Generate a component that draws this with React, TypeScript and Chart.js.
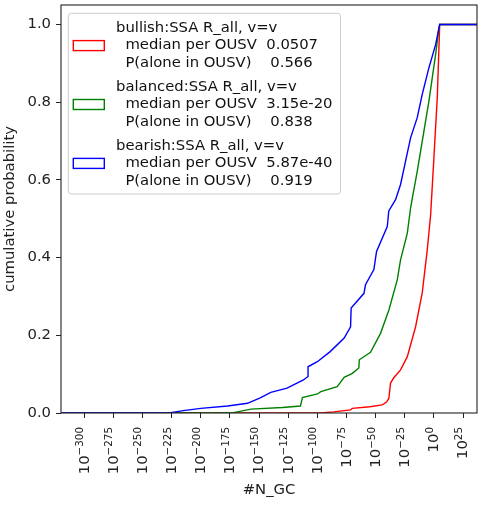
import { useEffect, useRef } from "react";
import { Chart, registerables } from "chart.js";

Chart.register(...registerables);

// x values are exponents: N_GC = 10^x
const bullishExp = [-320, -97, -86, -71.5, -70, -55, -44.3, -40.6, -38.6, -37.2, -34.6, -28.6, -22.8, -15.7, -10, -5.7, -2.8, 0, 2.9, 5, 40];
const bullishProb = [0, 0, 0.003, 0.008, 0.012, 0.016, 0.021, 0.028, 0.038, 0.077, 0.09, 0.111, 0.145, 0.222, 0.309, 0.42, 0.51, 0.656, 0.811, 1.0, 1.0];

const balancedExp = [-320, -179, -172, -157, -130, -114.5, -112.8, -100, -97, -83, -77, -70, -64.4, -64, -54.4, -45.8, -38.6, -31.4, -28.6, -22.8, -20, -14.3, -10, -4.3, 1.5, 4.3, 5, 40];
const balancedProb = [0, 0, 0.001, 0.01, 0.014, 0.018, 0.04, 0.049, 0.055, 0.068, 0.092, 0.102, 0.116, 0.137, 0.156, 0.205, 0.265, 0.343, 0.394, 0.463, 0.528, 0.622, 0.699, 0.802, 0.923, 0.991, 1.0, 1.0];

const bearishExp = [-320, -230, -226, -215, -200, -177, -160, -149, -140, -126, -112, -108, -108, -100, -89, -77, -71.5, -71, -60, -58.7, -51.5, -49.2, -40, -38.7, -32.9, -28.6, -24.3, -20, -14.3, -10, -4.3, 1.5, 5, 40];
const bearishProb = [0, 0, 0.001, 0.006, 0.012, 0.018, 0.025, 0.039, 0.053, 0.064, 0.085, 0.094, 0.119, 0.132, 0.158, 0.193, 0.222, 0.27, 0.308, 0.33, 0.369, 0.416, 0.48, 0.52, 0.549, 0.588, 0.648, 0.708, 0.76, 0.82, 0.888, 0.948, 1.0, 1.0];

const bullishLabel = ["bullish:SSA R_all, v=v", "  median per OUSV  0.0507", "  P(alone in OUSV)    0.566"];
const balancedLabel = ["balanced:SSA R_all, v=v", "  median per OUSV  3.15e-20", "  P(alone in OUSV)    0.838"];
const bearishLabel = ["bearish:SSA R_all, v=v", "  median per OUSV  5.87e-40", "  P(alone in OUSV)    0.919"];

const xTickExponents = [-300, -275, -250, -225, -200, -175, -150, -125, -100, -75, -50, -25, 0, 25];
const yTickValues = [0, 0.2, 0.4, 0.6, 0.8, 1.0];

const toPoints = (xs: number[], ys: number[]) => xs.map((x, i) => ({ x, y: ys[i] }));

const FONT = "'DejaVu Sans', sans-serif";
const FS = 14.8;

const framePlugin = {
  id: "frame",
  afterDatasetsDraw(chart: any) {
    const { ctx, chartArea: a } = chart;
    ctx.save();
    ctx.strokeStyle = "#222";
    ctx.lineWidth = 1.1;
    ctx.strokeRect(a.left, a.top, a.right - a.left, a.bottom - a.top);
    ctx.restore();
  },
};

// matplotlib-like 10^n labels, rotated, with a real superscript
const powerTicksPlugin = {
  id: "powerTicks",
  afterDraw(chart: any) {
    const { ctx } = chart;
    const xs = chart.scales.x;
    const baseFont = FS + "px " + FONT;
    const supFont = FS * 0.7 + "px " + FONT;
    ctx.save();
    ctx.fillStyle = "#222";
    ctx.textAlign = "left";
    ctx.textBaseline = "alphabetic";
    xs.ticks.forEach((t: any) => {
      const px = xs.getPixelForValue(t.value);
      const base = "10";
      const sup = String(t.value).replace("-", "\u2212");
      ctx.font = baseFont;
      const wb = ctx.measureText(base).width;
      ctx.font = supFont;
      const ws = ctx.measureText(sup).width;
      ctx.save();
      ctx.translate(px, xs.top + 14);
      ctx.rotate(-Math.PI / 2);
      const start = -(wb + ws);
      ctx.font = baseFont;
      ctx.fillText(base, start, 4.3);
      ctx.font = supFont;
      ctx.fillText(sup, start + wb, -1.1);
      ctx.restore();
    });
    ctx.restore();
  },
};

const legendPlugin = {
  id: "mplLegend",
  afterDatasetsDraw(chart: any) {
    const { ctx, chartArea: a } = chart;
    const sets = chart.data.datasets;
    const lineH = 17.3;
    const gap = 7;
    ctx.save();
    ctx.font = FS + "px " + FONT;
    const left = a.left + 7.3;
    const top = a.top + 8.3;
    const textX = left + 47.7;
    let maxW = 0;
    sets.forEach((ds: any) =>
      ds.label.split("\n").forEach((t: string) => {
        maxW = Math.max(maxW, ctx.measureText(t).width);
      })
    );
    const nLines = sets.reduce((n: number, ds: any) => n + ds.label.split("\n").length, 0);
    const height = 15 + (nLines - 1) * lineH + (sets.length - 1) * gap + 13.3;
    const width = textX - left + maxW + 8;

    ctx.beginPath();
    ctx.roundRect(left, top, width, height, 3);
    ctx.fillStyle = "rgba(255,255,255,0.8)";
    ctx.fill();
    ctx.strokeStyle = "#cccccc";
    ctx.lineWidth = 1;
    ctx.stroke();

    ctx.textBaseline = "middle";
    ctx.textAlign = "left";
    let y = top + 15;
    sets.forEach((ds: any) => {
      const lines = ds.label.split("\n");
      const mid = y + ((lines.length - 1) * lineH) / 2;
      ctx.strokeStyle = ds.borderColor;
      ctx.lineWidth = 1.4;
      ctx.strokeRect(left + 5, mid - 5, 31, 10);
      ctx.fillStyle = "#111";
      lines.forEach((t: string, i: number) => ctx.fillText(t, textX, y + i * lineH));
      y += lines.length * lineH + gap;
    });
    ctx.restore();
  },
};

export default function App() {
  const canvasRef = useRef<HTMLCanvasElement | null>(null);

  useEffect(() => {
    document.body.style.margin = "0";
    if (!canvasRef.current) return;
    Chart.defaults.font.family = FONT;
    Chart.defaults.font.size = FS;
    Chart.defaults.color = "#222";

    const chart = new Chart(canvasRef.current, {
      type: "line",
      data: {
        datasets: [
          {
            label: bullishLabel.join("\n"),
            data: toPoints(bullishExp, bullishProb),
            borderColor: "#ff0000",
            borderWidth: 1.4,
            order: 3,
          },
          {
            label: balancedLabel.join("\n"),
            data: toPoints(balancedExp, balancedProb),
            borderColor: "#008000",
            borderWidth: 1.4,
            order: 2,
          },
          {
            label: bearishLabel.join("\n"),
            data: toPoints(bearishExp, bearishProb),
            borderColor: "#0000ff",
            borderWidth: 1.4,
            order: 1,
          },
        ],
      },
      options: {
        responsive: false,
        animation: false,
        events: [],
        layout: { padding: { top: 5, right: 7, bottom: 0, left: 0 } },
        elements: {
          point: { radius: 0 },
          line: { tension: 0, fill: false },
        },
        plugins: {
          legend: { display: false },
          tooltip: { enabled: false },
        },
        scales: {
          x: {
            type: "linear",
            min: -320,
            max: 37,
            afterBuildTicks: (scale: any) => {
              scale.ticks = xTickExponents.map((v) => ({ value: v }));
            },
            afterFit: (scale: any) => {
              scale.height = 95;
              scale.paddingLeft = 0;
              scale.paddingRight = 0;
            },
            ticks: { display: false },
            grid: { display: true, drawOnChartArea: false, drawTicks: true, tickLength: 5, color: "#222" },
            border: { display: false },
            title: { display: true, text: "#N_GC", padding: { top: 0, bottom: 9 } },
          },
          y: {
            type: "linear",
            min: 0,
            max: 1.05,
            afterBuildTicks: (scale: any) => {
              scale.ticks = yTickValues.map((v) => ({ value: v }));
            },
            afterFit: (scale: any) => {
              scale.width = 61;
              scale.paddingTop = 0;
              scale.paddingBottom = 0;
            },
            ticks: {
              padding: 5,
              callback: (v: any) => Number(v).toFixed(1),
            },
            grid: { display: true, drawOnChartArea: false, drawTicks: true, tickLength: 5, color: "#222" },
            border: { display: false },
            title: { display: true, text: "cumulative probability", padding: { top: 1, bottom: 0 } },
          },
        },
      },
      plugins: [framePlugin, legendPlugin, powerTicksPlugin],
    });
    return () => {
      chart.destroy();
    };
  }, []);

  return (
    <div style={{ width: 484, height: 508 }}>
      <canvas ref={canvasRef} width={484} height={508} />
    </div>
  );
}
